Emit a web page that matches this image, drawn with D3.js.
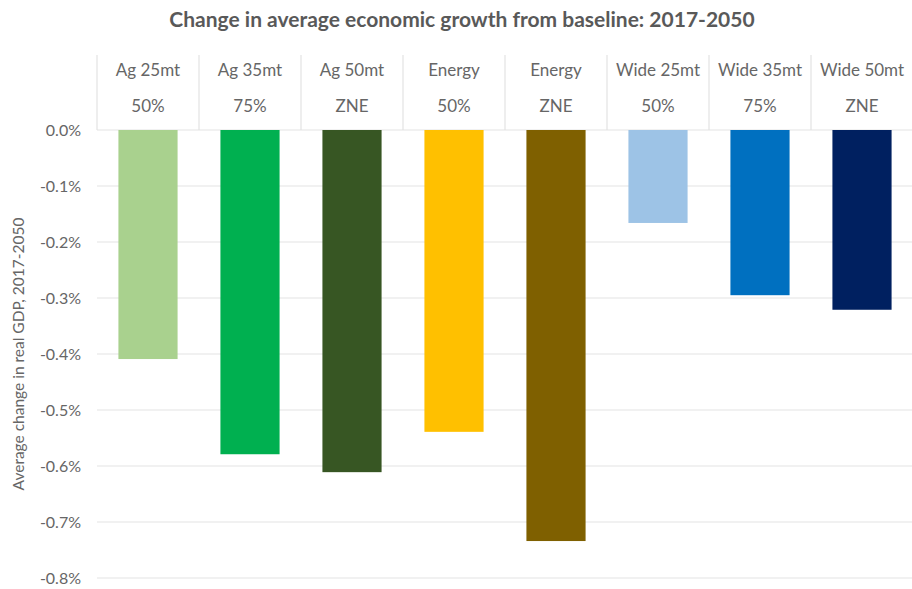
<!DOCTYPE html>
<html>
<head>
<meta charset="utf-8">
<script src="https://cdn.jsdelivr.net/npm/d3@7"></script>
<style>
  html, body { margin: 0; padding: 0; background: #fff; }
  svg { display: block; font-family: Lato, "Open Sans", sans-serif; }
</style>
</head>
<body>
<svg id="chart" width="912" height="589"></svg>
<script>
// Scenario names (two-line header labels) and their results
const scenarios = ["Ag 25mt", "Ag 35mt", "Ag 50mt", "Energy", "Energy", "Wide 25mt", "Wide 35mt", "Wide 50mt"];
const targets = ["50%", "75%", "ZNE", "50%", "ZNE", "50%", "75%", "ZNE"];
const gdpChange = [-0.409, -0.579, -0.611, -0.539, -0.734, -0.166, -0.295, -0.321];
const barColors = ["#A9D18E", "#00B050", "#375623", "#FFC000", "#7F6000", "#9DC3E6", "#0070C0", "#002060"];
const yTicks = [0, -0.1, -0.2, -0.3, -0.4, -0.5, -0.6, -0.7, -0.8];

const svg = d3.select("#chart");
const plotLeft = 97, plotRight = 913, plotTop = 130, plotBottom = 578, headerTop = 55;

const ids = d3.range(scenarios.length);
const x = d3.scaleBand().domain(ids).range([plotLeft, plotRight]).paddingInner(0.42).paddingOuter(0.21);
const xBand = d3.scaleBand().domain(ids).range([plotLeft, plotRight]);
const y = d3.scaleLinear().domain([0, -0.8]).range([plotTop, plotBottom]);

// Title
svg.append("text")
  .attr("x", 462).attr("y", 27)
  .attr("text-anchor", "middle")
  .attr("font-weight", "bold").attr("font-size", 21)
  .attr("fill", "#595959")
  .text("Change in average economic growth from baseline: 2017-2050");

// Gridlines
svg.append("g").selectAll("line").data(yTicks).join("line")
  .attr("x1", plotLeft).attr("x2", plotRight)
  .attr("y1", d => y(d)).attr("y2", d => y(d))
  .attr("stroke", "#e3e3e3").attr("stroke-width", 1.2);

// Y axis labels (plain hyphen for the minus sign)
const yAxis = d3.axisLeft(y).tickValues(yTicks).tickSize(0).tickPadding(0)
  .tickFormat(d => d3.format(".1f")(d).replace("\u2212", "-") + "%");
svg.append("g").attr("transform", `translate(${plotLeft - 16},0)`).call(yAxis)
  .call(g => g.select(".domain").remove())
  .call(g => g.selectAll("text").attr("font-size", 16).attr("fill", "#666")
    .attr("font-family", "Lato, sans-serif"));

// Y axis title
svg.append("text")
  .attr("transform", `translate(24,${y(-0.4)}) rotate(-90)`)
  .attr("text-anchor", "middle")
  .attr("font-size", 15.5).attr("fill", "#666")
  .text("Average change in real GDP, 2017-2050");

// Header category cells (separators)
const sepX = ids.map(i => xBand(i)).concat([plotRight]);
svg.append("g").selectAll("line").data(sepX).join("line")
  .attr("x1", d => d).attr("x2", d => d)
  .attr("y1", headerTop).attr("y2", plotTop)
  .attr("stroke", "#e3e3e3").attr("stroke-width", 1.2);

const header = svg.append("g").selectAll("g").data(ids).join("g")
  .attr("transform", i => `translate(${xBand(i) + xBand.bandwidth() / 2},0)`);
header.append("text").attr("y", 76).attr("text-anchor", "middle")
  .attr("font-size", 17).attr("fill", "#666").text(i => scenarios[i]);
header.append("text").attr("y", 112).attr("text-anchor", "middle")
  .attr("font-size", 17).attr("fill", "#666").text(i => targets[i]);

// Bars
svg.append("g").selectAll("rect").data(ids).join("rect")
  .attr("x", i => x(i))
  .attr("width", x.bandwidth())
  .attr("y", y(0))
  .attr("height", i => y(gdpChange[i]) - y(0))
  .attr("fill", i => barColors[i]);
</script>
</body>
</html>
